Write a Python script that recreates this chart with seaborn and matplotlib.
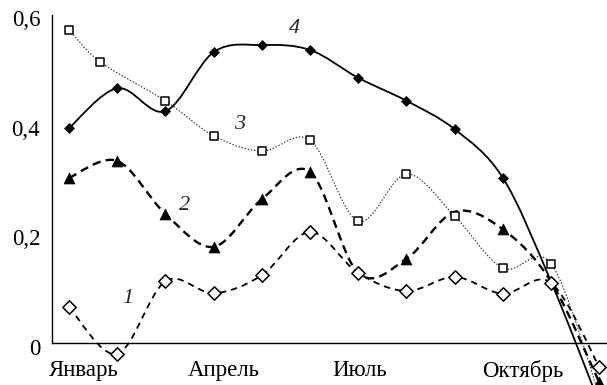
import numpy as np
import pandas as pd
import matplotlib
matplotlib.use("Agg")
import matplotlib.pyplot as plt
from matplotlib.path import Path
from matplotlib.patches import PathPatch
from matplotlib.transforms import ScaledTranslation
import seaborn as sns

# ---- data ----
months_x = [0, 1, 2, 3, 4, 5, 6, 7, 8, 9, 10, 11]
s3_x = [0, 0.65, 2, 3, 4, 5, 6, 7, 8, 9, 10, 11]
series1 = [0.066, -0.020, 0.113, 0.091, 0.124, 0.203, 0.128, 0.095, 0.121, 0.090, 0.110, -0.044]
series2 = [0.302, 0.333, 0.236, 0.176, 0.263, 0.313, 0.128, 0.154, 0.240, 0.208, 0.112, -0.072]
series3 = [0.573, 0.514, 0.443, 0.379, 0.351, 0.371, 0.223, 0.309, 0.232, 0.137, 0.145, -0.095]
series4 = [0.393, 0.466, 0.424, 0.532, 0.545, 0.536, 0.485, 0.443, 0.391, 0.302, 0.112, -0.110]
# which markers are visible in the reference (others are hidden behind other marks)
series2_marker_shown = [1, 1, 1, 1, 1, 1, 0, 1, 0, 1, 0, 1]
series4_marker_shown = [1, 1, 1, 1, 1, 1, 1, 1, 1, 1, 0, 1]
month_labels = ["Январь", "Апрель", "Июль", "Октябрь"]
y_ticks = [0, 0.2, 0.4, 0.6]
y_labels = ["0", "0,2", "0,4", "0,6"]
curve_names = ["1", "2", "3", "4"]

# ---- layout ----
label_pos = [0.31, 3.22, 6.02, 9.42]
tick_pos = [0.62, 1.62, 2.59, 3.59, 4.56, 5.54, 6.51, 7.53, 8.51, 9.50, 10.46]
name_pos = [(1.22, 0.082), (2.40, 0.252), (3.53, 0.400), (4.68, 0.575)]

sns.set_style("white")
plt.rcParams["font.family"] = ["Liberation Serif", "DejaVu Serif"]
plt.rcParams["lines.scale_dashes"] = False

fig = plt.figure(figsize=(6.07, 3.85), dpi=100)
ax = fig.add_axes([52 / 607, 0, 1 - 52 / 607, 1])
ax.set_xlim(-0.353, 11.16)
ax.set_ylim(-0.0768, 0.6274)


def smooth_path(xs, ys):
    pts = np.column_stack([xs, ys]).astype(float)
    n = len(pts)
    verts = [pts[0]]
    codes = [Path.MOVETO]
    for i in range(n - 1):
        p0 = pts[max(i - 1, 0)]
        p1 = pts[i]
        p2 = pts[i + 1]
        p3 = pts[min(i + 2, n - 1)]
        c1 = p1 + (p2 - p0) / 6.0
        c2 = p2 - (p3 - p1) / 6.0
        verts += [c1, c2, p2]
        codes += [Path.CURVE4] * 3
    return Path(verts, codes)


line_specs = [
    (months_x, series1, dict(lw=1.3, ls=(0, (4.6, 3.6))), "#000000"),
    (months_x, series2, dict(lw=1.7, ls=(0, (6.0, 3.8))), "#000000"),
    (s3_x, series3, dict(lw=0.8, ls=(0, (1.0, 1.3))), "#222222"),
    (months_x, series4, dict(lw=1.3, ls="-"), "#000000"),
]
for xs, ys, st, col in line_specs:
    patch = PathPatch(smooth_path(xs, ys), facecolor="none", edgecolor=col,
                      linewidth=st["lw"], linestyle=st["ls"], zorder=2)
    ax.add_patch(patch)

# markers
df4 = pd.DataFrame({"x": months_x, "y": series4, "m": series4_marker_shown})
df2 = pd.DataFrame({"x": months_x, "y": series2, "m": series2_marker_shown})
df3 = pd.DataFrame({"x": s3_x, "y": series3})
df1 = pd.DataFrame({"x": months_x, "y": series1})
sns.scatterplot(data=df4[df4.m == 1], x="x", y="y", marker="D", s=26, color="black",
                edgecolor="black", linewidth=0.5, ax=ax, zorder=3)
sns.scatterplot(data=df2[df2.m == 1], x="x", y="y", marker="^", s=62, color="black",
                edgecolor="black", linewidth=0.5, ax=ax, zorder=3)
sns.scatterplot(data=df3, x="x", y="y", marker="s", s=40, color="white",
                edgecolor="black", linewidth=1.1, ax=ax, zorder=4)
sns.scatterplot(data=df1, x="x", y="y", marker="D", s=46, color="white",
                edgecolor="black", linewidth=1.1, ax=ax, zorder=5)

for (nx, ny), nm in zip(name_pos, curve_names):
    ax.text(nx, ny, nm, fontsize=16, style="italic", ha="center", va="center", zorder=6)

# axes styling
for side in ["top", "right"]:
    ax.spines[side].set_visible(False)
ax.spines["bottom"].set_position(("data", 0))
ax.spines["left"].set_bounds(0, 0.6)
for side in ["left", "bottom"]:
    ax.spines[side].set_linewidth(1.0)
    ax.spines[side].set_color("black")

ax.set_yticks(y_ticks, y_labels)
ax.set_yticks([0.1, 0.3, 0.5], minor=True)
ax.set_xticks(label_pos, month_labels)
ax.set_xticks(tick_pos, minor=True)
ax.tick_params(axis="y", which="major", direction="in", length=6.5, width=1.0,
               pad=8.5, labelsize=16.5, colors="black")
ax.tick_params(axis="y", which="minor", direction="in", length=5, width=1.0)
ax.tick_params(axis="x", which="major", length=0, pad=12, labelsize=16.5, colors="black")
ax.tick_params(axis="x", which="minor", direction="in", length=6.5, width=1.0)
ax.set_xlabel("")
ax.set_ylabel("")
ax.grid(False)

shift = ScaledTranslation(0, -3.5 / 100, fig.dpi_scale_trans)
for lab in ax.get_yticklabels():
    lab.set_transform(lab.get_transform() + shift)

fig.savefig("out.png", dpi=100)
